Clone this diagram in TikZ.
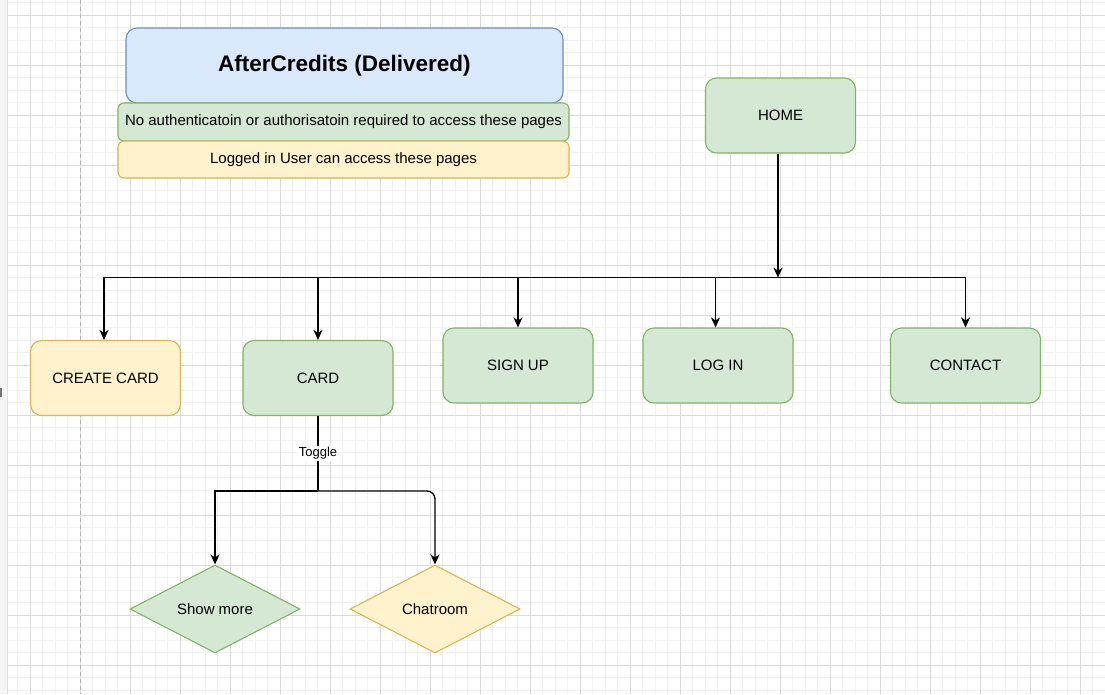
\documentclass[tikz,border=0pt]{standalone}
\usepackage{fontspec}
\setmainfont{Liberation Sans}
\usetikzlibrary{shapes.geometric,arrows.meta}

\definecolor{greenfill}{HTML}{D5E8D4}
\definecolor{greenline}{HTML}{82B366}
\definecolor{yellowfill}{HTML}{FFF2CC}
\definecolor{yellowline}{HTML}{D6B656}
\definecolor{bluefill}{HTML}{DAE8FC}
\definecolor{blueline}{HTML}{6C8EBF}
\definecolor{minorgrid}{HTML}{F2F2F2}
\definecolor{majorgrid}{HTML}{DADADA}

\begin{document}
\begin{tikzpicture}[x=1pt,y=-1pt,
    pagebox/.style={draw,rounded corners=11pt,line width=1.1pt,minimum width=150pt,minimum height=75pt,font=\fontsize{15}{18}\selectfont},
    greenpage/.style={fill=greenfill,draw=greenline},
    yellowpage/.style={fill=yellowfill,draw=yellowline},
    choice/.style={diamond,draw,line width=1.1pt,aspect=1.93,minimum width=170pt,minimum height=88pt,inner sep=0pt,font=\fontsize{15}{18}\selectfont},
    flow/.style={line width=1.3pt,-{Stealth[length=10pt,width=9pt,inset=3pt]}},
    legendbox/.style={draw,rounded corners=6pt,line width=1.1pt,minimum width=451pt,font=\fontsize{15}{18}\selectfont}]
    \useasboundingbox (0,0) rectangle (1105,694);
    % canvas
    \fill[white] (0,0) rectangle (1105,694);
    \fill[black!4] (0,0) rectangle (7,694);
    \foreach \gx in {1,...,87} \draw[minorgrid,line width=1pt] ({5.3+12.5*\gx},0) -- ({5.3+12.5*\gx},694);
    \foreach \gy in {0,...,55} \draw[minorgrid,line width=1pt] (7,{2.8+12.5*\gy}) -- (1105,{2.8+12.5*\gy});
    \foreach \gx in {0,...,21} \draw[majorgrid,line width=1pt] ({30.3+50*\gx},0) -- ({30.3+50*\gx},694);
    \foreach \gy in {0,...,13} \draw[majorgrid,line width=1pt] (7,{15.3+50*\gy}) -- (1105,{15.3+50*\gy});
    \draw[black!12,line width=1pt] (7,0) -- (7,694);
    \draw[black!30,line width=1pt,dash pattern=on 4pt off 3pt] (80.5,0) -- (80.5,694);
    \draw[black!55,line width=1.5pt] (1.2,387.5) -- (1.2,397);
    % legend
    \node[pagebox,fill=bluefill,draw=blueline,minimum width=437pt,font=\fontsize{22.5}{27}\selectfont\bfseries] at (344.5,65.5) (title) {AfterCredits (Delivered)};
    \node[legendbox,greenpage,minimum height=38pt] at (343.5,122) (opennote) {No authenticatoin or authorisatoin required to access these pages};
    \node[legendbox,yellowpage,minimum height=37pt] at (343.5,159.5) (usernote) {Logged in User can access these pages};
    % pages
    \node[pagebox,greenpage] at (780.5,115.5) (home) {HOME};
    \node[pagebox,yellowpage] at (105.5,378) (create) {CREATE CARD};
    \node[pagebox,greenpage] at (318,378) (card) {CARD};
    \node[pagebox,greenpage] at (518,365.5) (signup) {SIGN UP};
    \node[pagebox,greenpage] at (718,365.5) (login) {LOG IN};
    \node[pagebox,greenpage] at (965.5,365.5) (contact) {CONTACT};
    \node[choice,fill=greenfill,draw=greenline] at (215,609) (showmore) {Show more};
    \node[choice,fill=yellowfill,draw=yellowline] at (435,609) (chatroom) {Chatroom};
    \coordinate (bus) at (778,277.7);
    \coordinate (split) at (318,491);
    % links
    \draw[flow] (home.south -| bus) -- (bus);
    \draw[flow] (bus) -| ([xshift=-1.5pt]create.north);
    \draw[flow] (bus) -| (card.north);
    \draw[flow] (bus) -| (signup.north);
    \draw[flow] (bus) -| ([xshift=-2.5pt]login.north);
    \draw[flow] (bus) -| (contact.north);
    \draw[line width=1.3pt] (card.south) -- (split) node[midway,fill=white,inner sep=1pt,font=\fontsize{13}{15}\selectfont] {Toggle};
    \draw[flow] (split) -| (showmore.north);
    \draw[flow,rounded corners=8pt] (split) -| (chatroom.north);
\end{tikzpicture}
\end{document}
